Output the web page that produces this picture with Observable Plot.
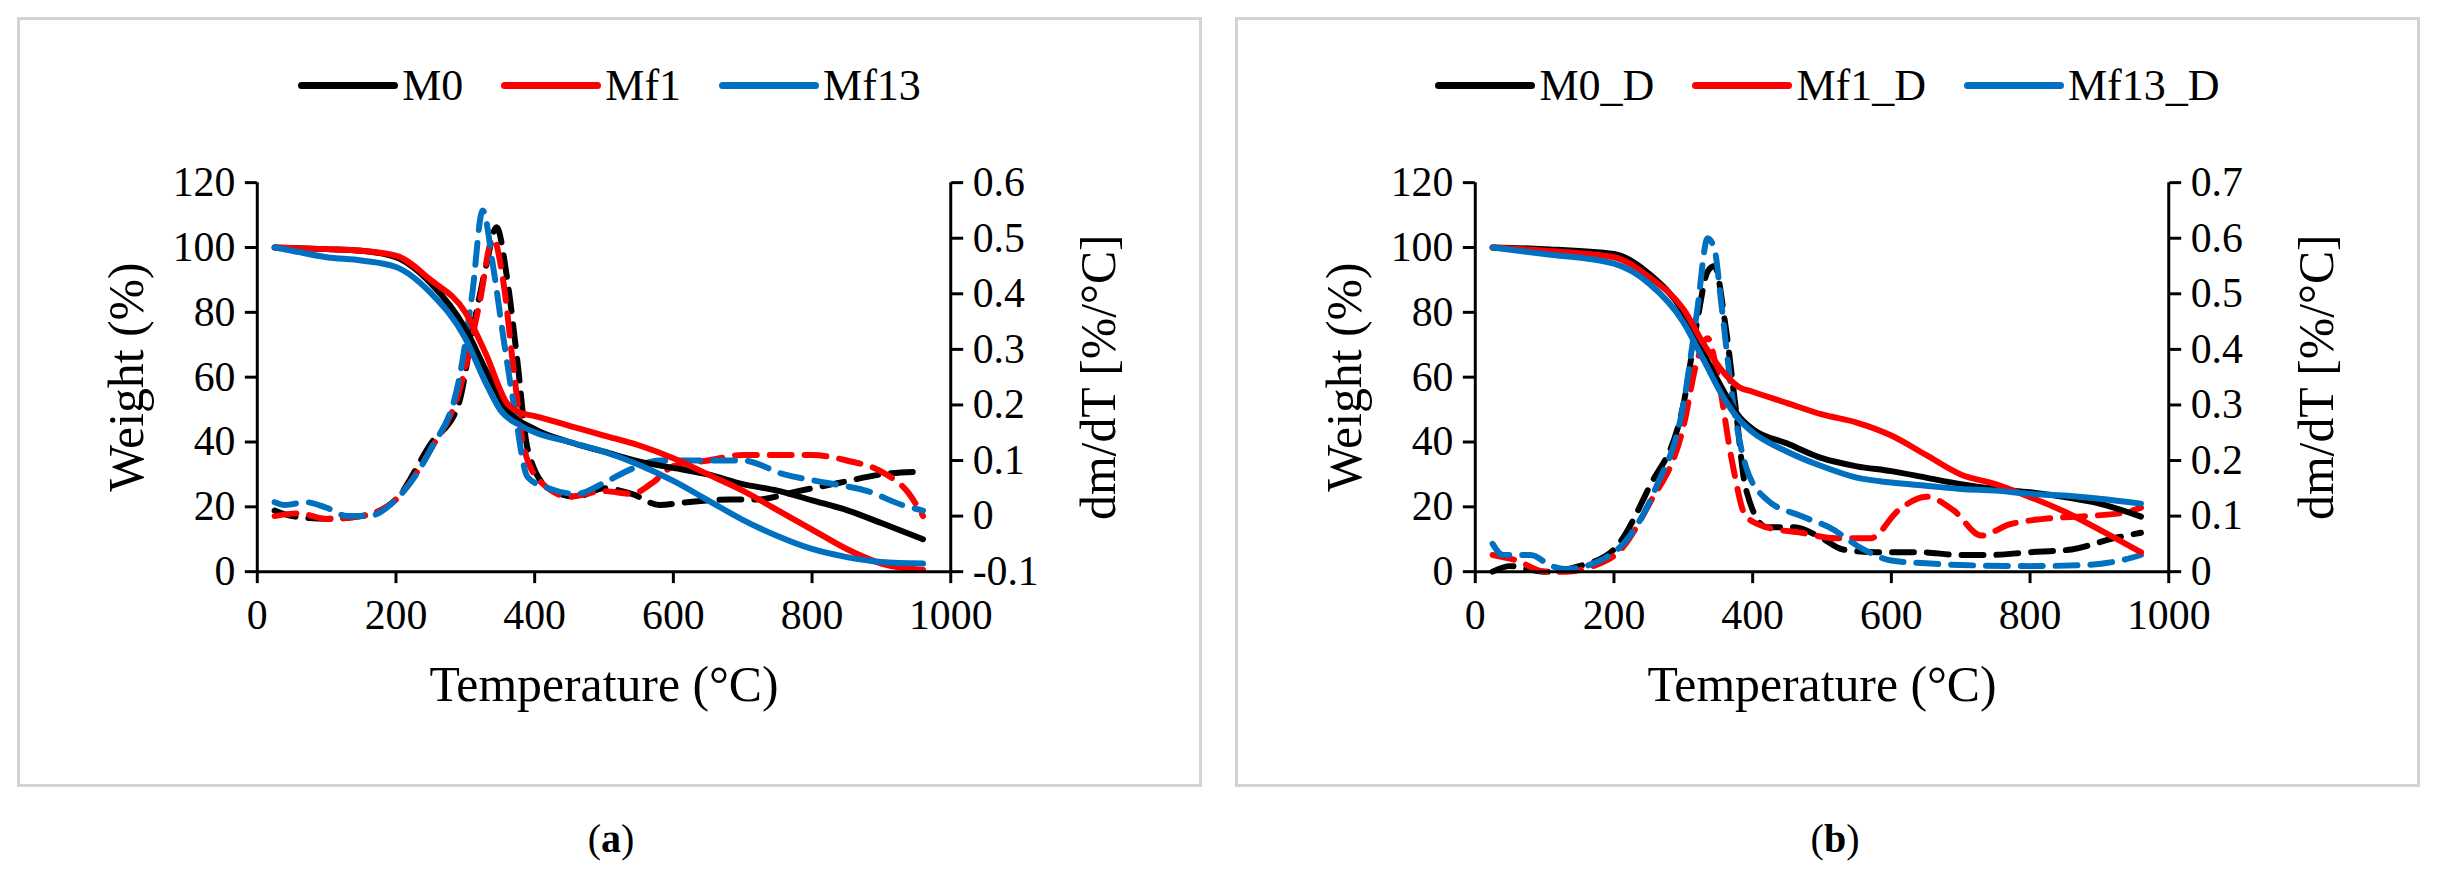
<!DOCTYPE html>
<html><head><meta charset="utf-8">
<script src="https://cdn.jsdelivr.net/npm/d3@7"></script>
<script src="https://cdn.jsdelivr.net/npm/@observablehq/plot@0.6"></script>
<style>
body{margin:0;background:#fff;font-family:"Times New Roman",Times,"Liberation Serif","DejaVu Serif",serif;}
.panel{position:absolute;top:17px;width:1185px;height:770px;border:3px solid #d4d4d4;box-sizing:border-box;}
.panel svg{position:absolute;left:-3px;top:-3px;overflow:visible}
.legend{position:absolute;top:40px;left:0;width:100%;display:flex;justify-content:center;gap:38px;font-size:44px;z-index:2}
.legend span{display:flex;align-items:center}
.legend i{display:inline-block;width:100px;height:7px;border-radius:4px;margin-right:4px}
.cap{position:absolute;top:815px;font-size:40px;width:100px;text-align:center}
</style></head><body>
<div class="panel" id="pa" style="left:17px"></div>
<div class="panel" id="pb" style="left:1235px"></div>
<div class="cap" style="left:561px">(<b>a</b>)</div>
<div class="cap" style="left:1785px">(<b>b</b>)</div>
<script>
const colors = ["#000000", "#ff0000", "#0070c0"];
const namesA = ["M0", "Mf1", "Mf13"];
const namesB = ["M0_D", "Mf1_D", "Mf13_D"];
const leftTicks = [0, 20, 40, 60, 80, 100, 120];
const xTicks = [0, 200, 400, 600, 800, 1000];
const rightTicksA = [-0.1, 0, 0.1, 0.2, 0.3, 0.4, 0.5, 0.6];
const rightTicksB = [0, 0.1, 0.2, 0.3, 0.4, 0.5, 0.6, 0.7];

// Panel (a) weight curves [T, %]
const wM0 = [[25,100],[100,99.5],[150,99],[200,97],[250,89],[300,75],[330,62],[360,50],[400,44],[450,40],[500,37],[550,34],[600,32],[650,30],[700,27],[750,25],[800,22],[850,19],[900,15],[960,10]];
const wMf1 = [[25,100],[100,99.5],[150,99],[200,97.5],[250,90],[300,80],[330,67],[360,52],[380,49],[400,48],[450,45],[500,42],[550,39],[600,35],[650,30],[700,25],[750,19],[800,13],[850,7],[900,2.5],[960,0.5]];
const wMf13 = [[25,100],[50,99],[100,97],[150,96],[200,94],[250,86],[300,72],[330,58],[350,50],[380,45],[400,43],[450,40],[500,37],[550,33],[600,28],[650,22],[700,16],[750,11],[800,7],[850,4.5],[900,3],[960,2.5]];
// Panel (a) derivative curves [T, %/°C]
const dM0 = [[25,0.01],[50,0.0],[100,-0.005],[150,0.0],[200,0.03],[250,0.13],[290,0.2],[310,0.33],[330,0.45],[345,0.52],[360,0.43],[375,0.28],[390,0.12],[420,0.05],[460,0.035],[500,0.05],[540,0.04],[580,0.02],[620,0.025],[680,0.03],[720,0.03],[780,0.045],[840,0.06],[900,0.075],[960,0.08]];
const dMf1 = [[25,0.0],[60,0.005],[100,-0.005],[150,0.0],[200,0.03],[250,0.12],[290,0.22],[320,0.38],[340,0.5],[355,0.42],[370,0.26],[385,0.12],[410,0.06],[450,0.035],[500,0.045],[540,0.04],[570,0.06],[600,0.09],[650,0.1],[700,0.11],[750,0.11],[800,0.11],[850,0.1],[900,0.08],[940,0.04],[960,0.0]];
const dMf13 = [[25,0.025],[40,0.02],[70,0.025],[100,0.015],[130,0.0],[160,0.0],[200,0.03],[250,0.12],[290,0.24],[310,0.4],[325,0.55],[340,0.45],[355,0.32],[370,0.2],[390,0.07],[420,0.05],[460,0.04],[500,0.06],[540,0.085],[580,0.1],[640,0.1],[700,0.1],[760,0.075],[820,0.06],[880,0.045],[930,0.02],[960,0.01]];

// Panel (b)
const wM0D = [[25,100],[100,99.5],[200,98],[250,92],[300,80],[330,67],[360,55],[380,48],[400,44],[450,39.5],[500,35],[550,32.5],[600,31],[650,29],[700,27],[750,25.5],[800,24.5],[850,23],[900,21],[960,17]];
const wMf1D = [[25,100],[100,99],[200,97],[250,91],[300,81],[330,70],[360,61],[380,57],[400,55.5],[450,52],[500,48.5],[550,46],[600,42],[650,36],[700,30],[750,27],[800,23],[850,18.5],[900,13],[960,6]];
const wMf13D = [[25,100],[100,98],[200,95],[250,89],[300,77],[330,65],[360,53],[380,47],[400,43],[450,37],[500,32.5],[550,29],[600,27.5],[650,26.5],[700,25.5],[750,25],[800,24],[850,23.5],[900,22.5],[960,21]];
const dM0D = [[25,0.0],[50,0.01],[100,0.0],[150,0.01],[200,0.04],[250,0.15],[300,0.3],[320,0.45],[335,0.54],[345,0.55],[360,0.45],[375,0.3],[390,0.15],[420,0.08],[460,0.08],[500,0.06],[530,0.04],[580,0.035],[640,0.035],[700,0.03],[740,0.03],[800,0.035],[860,0.04],[920,0.06],[960,0.07]];
const dMf1D = [[25,0.03],[60,0.02],[100,0.0],[130,0.0],[170,0.01],[210,0.04],[250,0.12],[300,0.26],[320,0.38],[335,0.42],[350,0.35],[370,0.2],[390,0.1],[420,0.08],[470,0.07],[520,0.06],[570,0.06],[610,0.11],[650,0.135],[690,0.11],[730,0.065],[770,0.085],[820,0.095],[880,0.1],[930,0.105],[960,0.115]];
const dMf13D = [[25,0.05],[40,0.03],[80,0.03],[110,0.01],[130,0.005],[180,0.02],[220,0.06],[260,0.15],[300,0.3],[320,0.47],[335,0.6],[345,0.58],[355,0.48],[370,0.32],[390,0.19],[420,0.13],[470,0.1],[510,0.08],[560,0.04],[600,0.02],[650,0.015],[700,0.012],[800,0.01],[880,0.012],[930,0.02],[960,0.03]];

function panel(el, names, ws, ds, rTicks) {
  const rmin = rTicks[0], rmax = rTicks[rTicks.length - 1];
  const toL = d => (d - rmin) / (rmax - rmin) * 120;
  const toR = l => rmin + l / 120 * (rmax - rmin);
  const rows = [];
  names.forEach((n, i) => {
    ws[i].forEach(([x, y]) => rows.push({s: n, k: "w", x, y}));
    ds[i].forEach(([x, d]) => rows.push({s: n, k: "d", x, y: toL(d)}));
  });
  const sw = 6;
  const svg = Plot.plot({
    width: 1185, height: 770,
    marginLeft: 241, marginRight: 247, marginTop: 166, marginBottom: 213,
    style: {fontFamily: "'Times New Roman', 'Liberation Serif', serif", fontSize: "42px", color: "#000", background: "transparent"},
    x: {domain: [0, 1000]},
    y: {domain: [0, 120]},
    color: {domain: names, range: colors},
    marks: [
      Plot.line(rows.filter(r => r.k === "d"), {x: "x", y: "y", z: "s", stroke: "s", strokeWidth: sw, strokeDasharray: "22,13", curve: "monotone-x"}),
      Plot.line(rows.filter(r => r.k === "w"), {x: "x", y: "y", z: "s", stroke: "s", strokeWidth: sw, curve: "monotone-x"}),
      Plot.axisX({ticks: xTicks, tickSize: 12, tickPadding: 16, tickFormat: d => String(d), label: "Temperature (°C)", labelAnchor: "center", labelArrow: "none", labelOffset: 130, strokeWidth: 3}),
      Plot.axisY({ticks: leftTicks, anchor: "left", tickSize: 12, tickPadding: 10, label: "Weight (%)", labelAnchor: "center", labelArrow: "none", labelOffset: 150, strokeWidth: 3}),
      Plot.axisY({ticks: rTicks.map(toL), anchor: "right", tickSize: 12, tickPadding: 10, tickFormat: l => String(+toR(l).toFixed(1)), label: "dm/dT [%/°C]", labelAnchor: "center", labelArrow: "none", labelOffset: 165, strokeWidth: 3}),
      Plot.ruleX([0], {strokeWidth: 3}),
      Plot.ruleX([1000], {strokeWidth: 3}),
      Plot.ruleY([0], {strokeWidth: 3})
    ]
  });
  svg.querySelectorAll("[aria-label$='axis label'] text, [aria-label$='axis label']").forEach(t => t.setAttribute("font-size", "50"));
  el.appendChild(svg);
  const lg = document.createElement("div");
  lg.className = "legend";
  names.forEach((n, i) => {
    const s = document.createElement("span");
    s.innerHTML = `<i style="background:${colors[i]}"></i>${n}`;
    lg.appendChild(s);
  });
  el.appendChild(lg);
}
panel(document.getElementById("pa"), namesA, [wM0, wMf1, wMf13], [dM0, dMf1, dMf13], rightTicksA);
panel(document.getElementById("pb"), namesB, [wM0D, wMf1D, wMf13D], [dM0D, dMf1D, dMf13D], rightTicksB);
</script>
</body></html>
